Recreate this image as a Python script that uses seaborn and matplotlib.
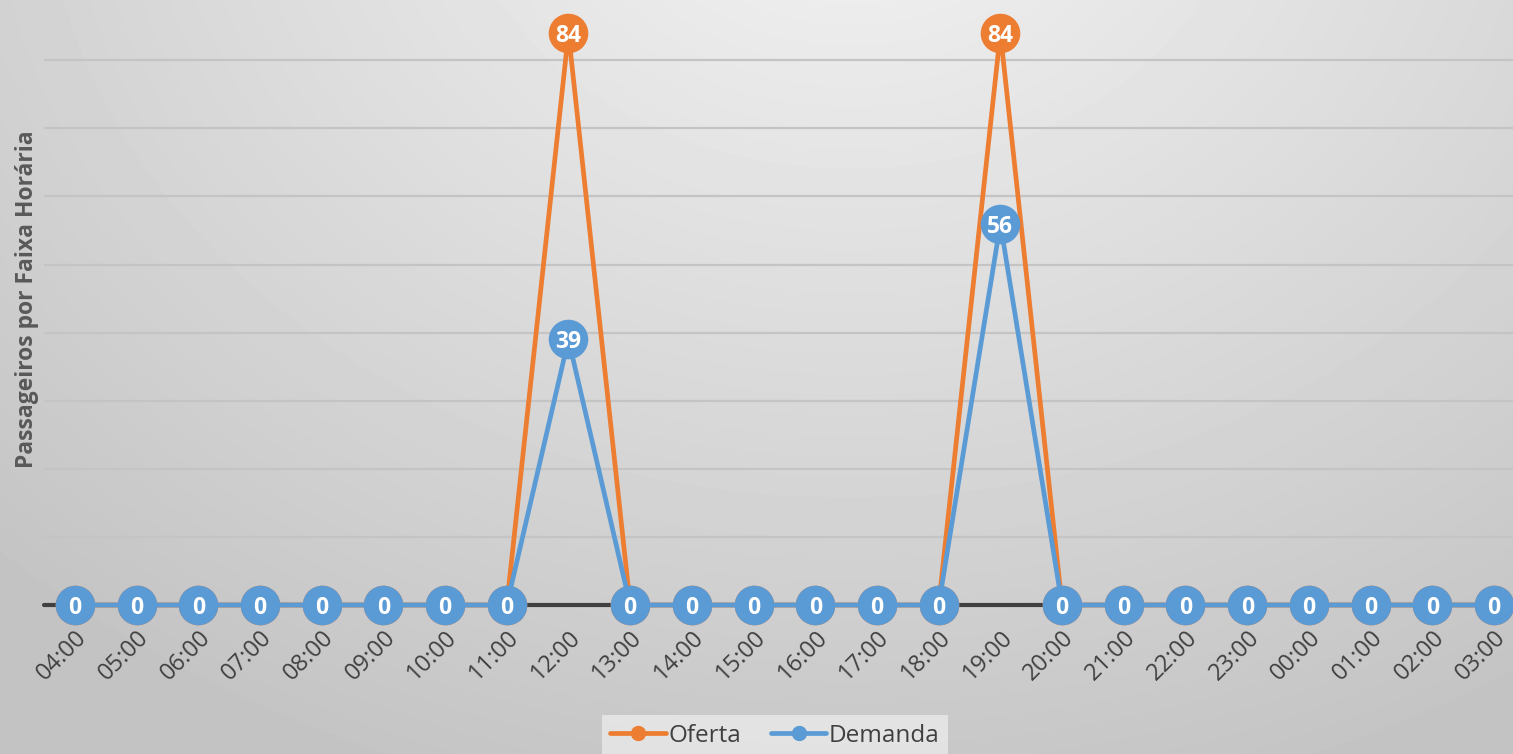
import numpy as np
import pandas as pd
import matplotlib.pyplot as plt
import seaborn as sns

horas = ['04:00', '05:00', '06:00', '07:00', '08:00', '09:00', '10:00', '11:00',
         '12:00', '13:00', '14:00', '15:00', '16:00', '17:00', '18:00', '19:00',
         '20:00', '21:00', '22:00', '23:00', '00:00', '01:00', '02:00', '03:00']
oferta = [0, 0, 0, 0, 0, 0, 0, 0, 84, 0, 0, 0, 0, 0, 0, 84, 0, 0, 0, 0, 0, 0, 0, 0]
demanda = [0, 0, 0, 0, 0, 0, 0, 0, 39, 0, 0, 0, 0, 0, 0, 56, 0, 0, 0, 0, 0, 0, 0, 0]

df = pd.DataFrame({'pos': range(len(horas)), 'hora': horas,
                   'Oferta': oferta, 'Demanda': demanda})

sns.set_style('white')
plt.rcParams['font.family'] = ['Open Sans', 'DejaVu Sans']

W, H = 1513, 754
fig = plt.figure(figsize=(W / 100, H / 100), dpi=100)

# background gradient
bg = fig.add_axes([0, 0, 1, 1])
yy, xx = np.mgrid[0:H, 0:W]
d = np.sqrt((xx - 850) ** 2 + ((yy + 150) * 1.25) ** 2)
shade = 0.955 - 0.19 * np.clip(d / 1250, 0, 1)
bg.imshow(shade, cmap='gray', vmin=0, vmax=1, aspect='auto', extent=[0, 1, 0, 1])
bg.axis('off')

left, right = 44, W
bottom_px, top_px = 605, 0
ax = fig.add_axes([left / W, 1 - bottom_px / H, (right - left) / W, (bottom_px - top_px) / H])
ax.patch.set_alpha(0)
ax.set_xlim(-0.5, 23 + (1513 - 1494) / 61.7)
ax.set_ylim(0, 605 / 6.81)
ax.set_yticks(range(10, 90, 10))
ax.set_yticklabels([])
ax.grid(axis='y', color='#c4c4c4', linewidth=1.6)
ax.grid(axis='x', visible=False)
for s in ax.spines.values():
    s.set_visible(False)
ax.axhline(0, color='#404040', linewidth=3, zorder=2, clip_on=False)

series = [('Oferta', '#ED7D31', 3.4, 3), ('Demanda', '#5B9BD5', 3.4, 6)]
for name, color, lw, z in series:
    sns.lineplot(data=df, x='pos', y=name, ax=ax, color=color, linewidth=lw,
                 marker='o', markersize=28.5, markeredgewidth=0, sort=False,
                 zorder=z, clip_on=False, label=name, legend=False)
    for x, v in zip(df['pos'], df[name]):
        ax.text(x, v, str(v), color='white', fontsize=16.5, fontweight='bold',
                ha='center', va='center_baseline', zorder=z + 0.5)

ax.set_xticks(df['pos'])
ax.set_xticklabels(horas, rotation=45, ha='right', rotation_mode='anchor',
                   fontsize=17, color='#404040')
ax.tick_params(axis='x', length=0, pad=15)
ax.tick_params(axis='y', length=0)
ax.set_xlabel('')
ax.set_ylabel('')

fig.text(27 / W, 1 - 299 / H, 'Passageiros por Faixa Horária', rotation=90,
         ha='center', va='center', fontsize=16.5, fontweight='bold', color='#595959')

handles = [plt.Line2D([], [], color=c, linewidth=lw, marker='o', markersize=10)
           for _, c, lw, _ in series]
leg = fig.legend(handles, [s[0] for s in series], loc='upper center',
                 bbox_to_anchor=(775 / W, 1 - 703 / H), ncol=2, frameon=True,
                 fontsize=17.5, handlelength=2.3, handletextpad=0.1, columnspacing=1.2,
                 borderpad=0.35, fancybox=False)
leg.get_frame().set_facecolor('#e6e6e6')
leg.get_frame().set_edgecolor('none')
leg.get_frame().set_alpha(0.9)
for t in leg.get_texts():
    t.set_color('#404040')

fig.savefig('out.png', dpi=100)
